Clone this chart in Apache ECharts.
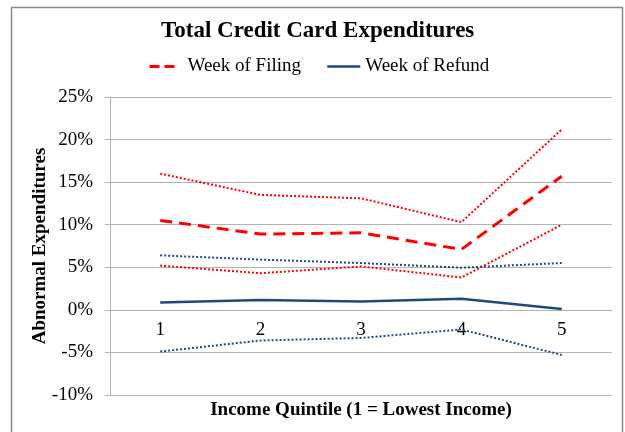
<!DOCTYPE html>
<html>
<head>
<meta charset="utf-8">
<script src="https://cdn.jsdelivr.net/npm/echarts@6/dist/echarts.min.js"></script>
<style>
  html, body { margin: 0; padding: 0; background: #fff; }
  #chart { width: 625px; height: 432px; }
</style>
</head>
<body>
<div id="chart"></div>
<script>
// income quintiles
var quintiles = ['1', '2', '3', '4', '5'];
// abnormal expenditures, in percent
var filing = [10.5, 8.9, 9.05, 7.1, 15.7];
var filingUpper = [16.0, 13.5, 13.1, 10.3, 21.2];
var filingLower = [5.2, 4.3, 5.1, 3.8, 10.0];
var refund = [0.85, 1.15, 0.97, 1.3, 0.1];
var refundUpper = [6.4, 5.9, 5.5, 4.95, 5.5];
var refundLower = [-4.9, -3.6, -3.3, -2.3, -5.3];

var serif = '"Liberation Serif", "Times New Roman", serif';
var red = '#ff0000';
var blue = '#1f497d';
var grey = '#b3b3b3';
var filingDash = [12, 7];

function ciLine(name, data, color) {
    return {
        name: name,
        type: 'line',
        data: data,
        symbol: 'none',
        lineStyle: { color: color, width: 2, type: [2, 2] },
        itemStyle: { color: color }
    };
}

var chart = echarts.init(document.getElementById('chart'));
chart.setOption({
    animation: false,
    backgroundColor: '#fff',
    title: {
        text: 'Total Credit Card Expenditures',
        left: 156,
        top: 15,
        textStyle: { fontFamily: serif, fontSize: 23, fontWeight: 'bold', color: '#000' }
    },
    legend: {
        data: [
            { name: 'Week of Filing', lineStyle: { type: [10, 5, 10, 8], width: 3 } },
            { name: 'Week of Refund', lineStyle: { type: 'solid', width: 2.5 } }
        ],
        left: 143,
        top: 52,
        itemWidth: 33,
        itemHeight: 12,
        itemGap: 25,
        itemStyle: { opacity: 0 },
        textStyle: { fontFamily: serif, fontSize: 19, color: '#000' }
    },
    grid: { left: 110, right: 13, top: 97, bottom: 37 },
    xAxis: {
        type: 'category',
        data: quintiles,
        // the axis sits on the 0% line, 85px above the grid bottom
        offset: -85,
        axisLine: { onZero: false, lineStyle: { color: grey, width: 1 } },
        axisTick: { length: 5, lineStyle: { color: grey } },
        axisLabel: { margin: 11, fontFamily: serif, fontSize: 19, color: '#000' }
    },
    yAxis: {
        type: 'value',
        min: -10,
        max: 25,
        interval: 5,
        name: 'Abnormal Expenditures',
        nameLocation: 'middle',
        nameGap: 60,
        nameMoveOverlap: false,
        nameTextStyle: { fontFamily: serif, fontSize: 19, fontWeight: 'bold', color: '#000' },
        axisLine: { show: true, lineStyle: { color: grey } },
        axisTick: { show: true, length: 5, lineStyle: { color: grey } },
        splitLine: { lineStyle: { color: grey } },
        axisLabel: { margin: 17, formatter: '{value}%', fontFamily: serif, fontSize: 19, color: '#000' }
    },
    graphic: [
        {
            type: 'rect',
            shape: { x: 11.5, y: 7.5, width: 611, height: 440 },
            style: { fill: 'none', stroke: '#8a8a8a', lineWidth: 1.5 },
            silent: true
        },
        {
            type: 'text',
            x: 361,
            y: 410,
            style: {
                text: 'Income Quintile (1 = Lowest Income)',
                fontFamily: serif, fontSize: 19, fontWeight: 'bold', fill: '#000',
                textAlign: 'center', textVerticalAlign: 'middle'
            }
        }
    ],
    series: [
        ciLine('Filing Upper', filingUpper, red),
        ciLine('Filing Lower', filingLower, red),
        ciLine('Refund Upper', refundUpper, blue),
        ciLine('Refund Lower', refundLower, blue),
        {
            name: 'Week of Filing',
            type: 'line',
            data: filing,
            symbol: 'none',
            lineStyle: { color: red, width: 3, type: filingDash },
            itemStyle: { color: red }
        },
        {
            name: 'Week of Refund',
            type: 'line',
            data: refund,
            symbol: 'none',
            lineStyle: { color: blue, width: 2.5 },
            itemStyle: { color: blue }
        }
    ]
});
</script>
</body>
</html>
